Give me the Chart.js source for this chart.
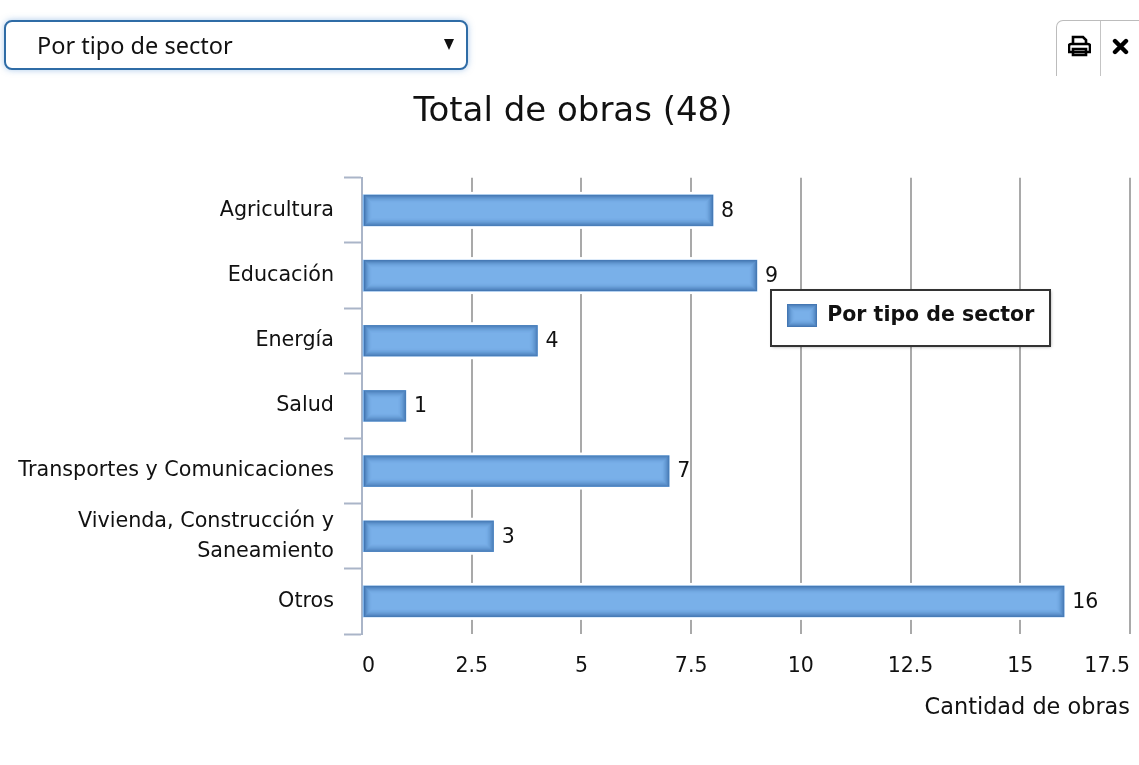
<!DOCTYPE html>
<html lang="es"><head><meta charset="utf-8">
<script src="https://cdn.jsdelivr.net/npm/chart.js@4"></script>
<style>
html,body{margin:0;padding:0;background:#fff;width:1139px;height:765px;overflow:hidden;font-family:"Noto Sans",sans-serif}
#c{position:absolute;left:0;top:0}
#sel{position:absolute;left:4px;top:20px;width:460px;height:46px;border:2px solid #2f6ca6;border-radius:8px;box-shadow:0 0 6px rgba(90,150,215,.5);background:#fff;color:#111;font-size:23.5px;line-height:46px;text-indent:31px}
#sel i{position:absolute;right:12px;top:17px;width:0;height:0;border-left:5.5px solid transparent;border-right:5.5px solid transparent;border-top:11px solid #111}
#btn{position:absolute;left:1056px;top:20px;width:90px;height:55px;border:1px solid #bcbcbc;border-bottom:none;border-radius:7px 7px 0 0}
#btn s{position:absolute;left:43px;top:0;bottom:0;width:1px;background:#c4c4c4}
#btn svg{position:absolute}
</style></head><body>
<canvas id="c" width="1139" height="765"></canvas>
<div id="sel">Por tipo de sector<i></i></div>
<div id="btn"><s></s>
<svg style="left:11px;top:14px" width="23" height="22" viewBox="0 0 23 22"><path d="M5 9V2h10l3 3v4M3 9h17a2 2 0 0 1 2 2v6H1v-6a2 2 0 0 1 2-2zM5 14h13v6H5z" fill="#fff" stroke="#000" stroke-width="2.6"/></svg>
<svg style="left:55px;top:17px" width="17" height="17" viewBox="0 0 17 17"><path d="M3 3l11 11M14 3L3 14" stroke="#000" stroke-width="4.4" stroke-linecap="round"/></svg>
</div>
<script>
const categories = ["Agricultura","Educación","Energía","Salud","Transportes y Comunicaciones",["Vivienda, Construcción y","Saneamiento"],"Otros"];
const seriesName = "Por tipo de sector";
const obras = [8,9,4,1,7,3,16];
const chartTitle = "Total de obras (48)";
const xTitle = "Cantidad de obras";
const FONT = '"DejaVu Sans"';
const TEXT = "#111";

function shade(ctx,x,y,w,h){
  ctx.save();
  const n=8;
  for(let i=0;i<n;i++){
    const a=1-i/n;
    ctx.strokeStyle="rgba(45,95,155,"+(0.7*a*a)+")";
    ctx.lineWidth=1;
    ctx.strokeRect(x+i+.5,y+i+.5,w-2*i-1,h-2*i-1);
  }
  ctx.restore();
}
const barDecor={
  id:"barDecor",
  beforeDatasetsDraw(chart){
    const ctx=chart.ctx;
    chart.getDatasetMeta(0).data.forEach(b=>{
      const p=b.getProps(["x","y","base","height"],true);
      ctx.fillStyle="#fff";
      ctx.fillRect(p.base+1,p.y-p.height/2-3,p.x-p.base+2,p.height+6);
    });
  },
  afterDatasetsDraw(chart){
    const ctx=chart.ctx;
    chart.getDatasetMeta(0).data.forEach((b,i)=>{
      const p=b.getProps(["x","y","base","height"],true);
      shade(ctx,p.base+1,p.y-p.height/2,p.x-p.base-1,p.height);
      ctx.fillStyle=TEXT;
      ctx.font="20.5px "+FONT;
      ctx.textAlign="left";ctx.textBaseline="middle";
      ctx.fillText(String(obras[i]),p.x+8,p.y+1);
    });
  }
};
const legendBox={
  id:"legendBox",
  afterLayout(chart){
    const l=chart.legend;
    l.left=787-10;l.top=294;l.right=l.left+270;l.bottom=l.top+50;
  },
  afterDraw(chart){
    const ctx=chart.ctx;
    ctx.save();
    ctx.shadowColor="rgba(0,0,0,.35)";ctx.shadowBlur=3;ctx.shadowOffsetX=1;ctx.shadowOffsetY=1;
    ctx.fillStyle="#fff";ctx.fillRect(771,290,279,56);
    ctx.restore();
    ctx.strokeStyle="#333";ctx.lineWidth=2;ctx.strokeRect(771,290,279,56);
    chart.legend.draw();
    const h=chart.legend.legendHitBoxes[0];
    shade(ctx,h.left,h.top,30,23);
  }
};
new Chart(document.getElementById("c"),{
  type:"bar",
  data:{labels:categories,datasets:[{label:seriesName,data:obras,backgroundColor:"#79b0e9",borderWidth:0,barThickness:31}]},
  plugins:[barDecor,legendBox],
  options:{
    indexAxis:"y",responsive:false,animation:false,
    layout:{padding:{left:16,right:9,top:0,bottom:43}},
    plugins:{
      title:{display:true,text:chartTitle,color:TEXT,font:{family:FONT,size:34,weight:"normal"},padding:{top:92,bottom:45}},
      legend:{position:"chartArea",align:"start",labels:{boxWidth:30,boxHeight:23,padding:10,color:TEXT,font:{family:FONT,size:20.5,weight:"bold"}}},
      tooltip:{enabled:false}
    },
    scales:{
      x:{min:0,max:17.5,
        ticks:{stepSize:2.5,align:"inner",padding:20,color:TEXT,maxRotation:0,autoSkip:false,font:{family:FONT,size:20.5}},
        grid:{color:"#a9a9a9",lineWidth:2,drawTicks:false},border:{display:false},
        title:{display:true,text:xTitle,align:"end",color:TEXT,font:{family:FONT,size:22.4},padding:{top:14,bottom:0}},
        afterFit(s){s.height=88;s.paddingRight=0;s.paddingLeft=0;}
      },
      y:{
        ticks:{padding:10,color:TEXT,autoSkip:false,font:{family:FONT,size:20.7,lineHeight:1.45}},
        grid:{drawOnChartArea:false,drawTicks:true,tickLength:18,tickColor:"#aab5c8",tickWidth:2,offset:true},
        border:{color:"#aab5c8",width:2},
        afterFit(s){s.width=346;}
      }
    }
  }
});
</script>
</body></html>
